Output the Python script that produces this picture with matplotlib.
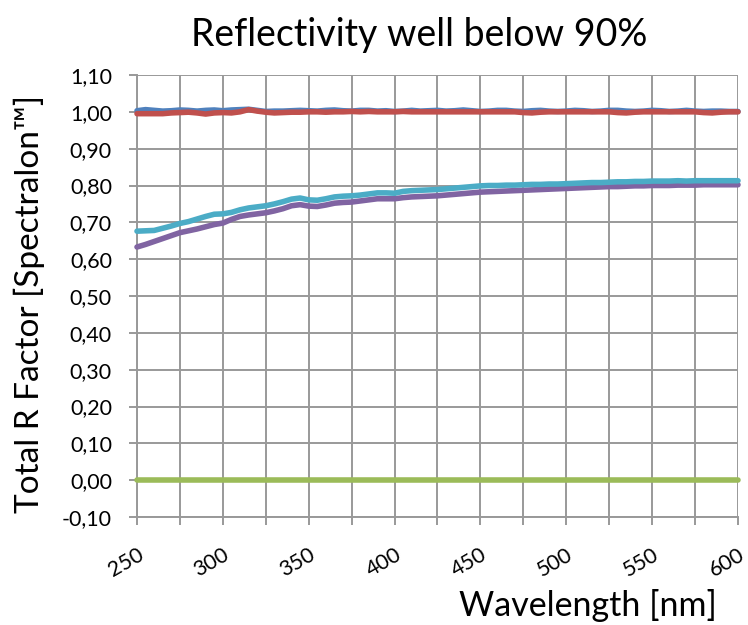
import numpy as np
import matplotlib
matplotlib.use('Agg')
import matplotlib.pyplot as plt
from matplotlib.ticker import MultipleLocator, FuncFormatter

plt.rcParams['font.family'] = ['Lato', 'DejaVu Sans']

# wavelength grid (nm), 5 nm steps
wavelength = np.arange(250, 601, 5)

# series
s_blue = [1.003, 1.006, 1.004, 1.002, 1.003, 1.005, 1.004, 1.002, 1.004, 1.005,
          1.003, 1.005, 1.006, 1.007, 1.004, 1.001, 1.002, 1.002, 1.003, 1.004,
          1.003, 1.002, 1.004, 1.005, 1.003, 1.002, 1.004, 1.004, 1.002, 1.003,
          1.001, 1.002, 1.004, 1.002, 1.003, 1.004, 1.002, 1.003, 1.005, 1.003,
          1.001, 1.002, 1.004, 1.004, 1.002, 1.001, 1.003, 1.004, 1.002, 1.001,
          1.002, 1.004, 1.003, 1.001, 1.002, 1.004, 1.004, 1.002, 1.001, 1.002,
          1.004, 1.003, 1.001, 1.002, 1.004, 1.002, 1.001, 1.002, 1.002, 1.001,
          1.001]
s_red = [0.995, 0.995, 0.995, 0.995, 0.997, 0.998, 0.999, 0.997, 0.994, 0.997,
         0.998, 0.997, 1.000, 1.006, 1.002, 0.999, 0.997, 0.998, 0.999, 0.999,
         1.000, 1.000, 0.999, 1.000, 1.000, 1.001, 1.000, 1.001, 1.000, 1.000,
         1.000, 1.001, 1.000, 1.000, 1.000, 1.000, 1.000, 1.000, 1.000, 1.000,
         1.000, 1.000, 1.000, 1.000, 1.000, 0.998, 0.997, 0.999, 1.000, 1.000,
         1.000, 1.000, 1.000, 1.000, 1.000, 1.000, 0.998, 0.997, 0.999, 1.000,
         1.000, 1.000, 1.000, 1.000, 1.000, 1.000, 0.998, 0.997, 0.999, 1.000,
         1.000]
s_green = [0.000, 0.000, 0.000, 0.000, 0.000, 0.000, 0.000, 0.000, 0.000, 0.000,
           0.000, 0.000, 0.000, 0.000, 0.000, 0.000, 0.000, 0.000, 0.000, 0.000,
           0.000, 0.000, 0.000, 0.000, 0.000, 0.000, 0.000, 0.000, 0.000, 0.000,
           0.000, 0.000, 0.000, 0.000, 0.000, 0.000, 0.000, 0.000, 0.000, 0.000,
           0.000, 0.000, 0.000, 0.000, 0.000, 0.000, 0.000, 0.000, 0.000, 0.000,
           0.000, 0.000, 0.000, 0.000, 0.000, 0.000, 0.000, 0.000, 0.000, 0.000,
           0.000, 0.000, 0.000, 0.000, 0.000, 0.000, 0.000, 0.000, 0.000, 0.000,
           0.000]
s_purple = [0.633, 0.640, 0.648, 0.656, 0.664, 0.672, 0.677, 0.682, 0.688, 0.694,
            0.698, 0.708, 0.716, 0.720, 0.723, 0.726, 0.731, 0.737, 0.745, 0.748,
            0.744, 0.743, 0.747, 0.752, 0.754, 0.755, 0.758, 0.761, 0.764, 0.764,
            0.764, 0.767, 0.769, 0.770, 0.771, 0.772, 0.774, 0.776, 0.778, 0.780,
            0.782, 0.783, 0.784, 0.785, 0.786, 0.787, 0.788, 0.789, 0.790, 0.791,
            0.792, 0.793, 0.794, 0.795, 0.796, 0.797, 0.797, 0.798, 0.799, 0.799,
            0.800, 0.800, 0.800, 0.801, 0.801, 0.801, 0.802, 0.802, 0.802, 0.802,
            0.802]
s_cyan = [0.676, 0.677, 0.678, 0.684, 0.690, 0.697, 0.702, 0.709, 0.716, 0.722,
          0.723, 0.727, 0.734, 0.739, 0.742, 0.745, 0.750, 0.756, 0.763, 0.766,
          0.761, 0.760, 0.764, 0.769, 0.771, 0.772, 0.774, 0.777, 0.780, 0.780,
          0.779, 0.784, 0.786, 0.787, 0.788, 0.789, 0.791, 0.793, 0.795, 0.797,
          0.799, 0.800, 0.800, 0.801, 0.801, 0.802, 0.803, 0.803, 0.804, 0.804,
          0.805, 0.806, 0.807, 0.808, 0.808, 0.809, 0.810, 0.810, 0.811, 0.811,
          0.812, 0.812, 0.812, 0.813, 0.812, 0.813, 0.813, 0.813, 0.813, 0.813,
          0.813]

x_ticks = [250, 300, 350, 400, 450, 500, 550, 600]
colors = ['#4F81BD', '#C0504D', '#9BBB59', '#8064A2', '#4BACC6']
grid_col = '#999999'

fig = plt.figure(figsize=(7.48, 6.25), dpi=100)
ax = fig.add_axes([137/748, 1-517/625, (738-137)/748, (517-75)/625])

for ys, c in zip([s_blue, s_red, s_green, s_purple, s_cyan], colors):
    ax.plot(wavelength, ys, color=c, lw=4.0, solid_capstyle='round',
            solid_joinstyle='round', zorder=3, clip_on=False)

ax.set_xlim(250, 600)
ax.set_ylim(-0.10, 1.10)
ax.set_xticks(x_ticks)
ax.xaxis.set_minor_locator(MultipleLocator(25))
ax.yaxis.set_major_locator(MultipleLocator(0.10))
ax.yaxis.set_major_formatter(FuncFormatter(lambda v, p: ('%.2f' % v).replace('.', ',')))

ax.grid(True, which='both', color=grid_col, lw=1.4, zorder=1)
for sp in ['top', 'right']:
    ax.spines[sp].set_visible(False)
for sp in ['left', 'bottom']:
    ax.spines[sp].set_color(grid_col)
    ax.spines[sp].set_linewidth(1.4)
ax.tick_params(which='both', direction='out', length=6, width=1.4, color=grid_col)
ax.tick_params(axis='y', labelsize=15.5, pad=12)
ax.tick_params(axis='x', labelsize=15.5, pad=14)

for lab in ax.get_xticklabels():
    lab.set_rotation(30)
    lab.set_ha('right')
    lab.set_va('top')
    lab.set_rotation_mode('anchor')

fig.text(419/748, 1-35/625, 'Reflectivity well below 90%', fontsize=27,
         ha='center', va='center')
fig.text(588/748, 1-605/625, 'Wavelength [nm]', fontsize=24.5,
         ha='center', va='center')
fig.text(29/748, 1-304/625, 'Total R Factor [Spectralon\u2122]', fontsize=24,
         ha='center', va='center', rotation=90)

fig.savefig('out.png', dpi=100)
